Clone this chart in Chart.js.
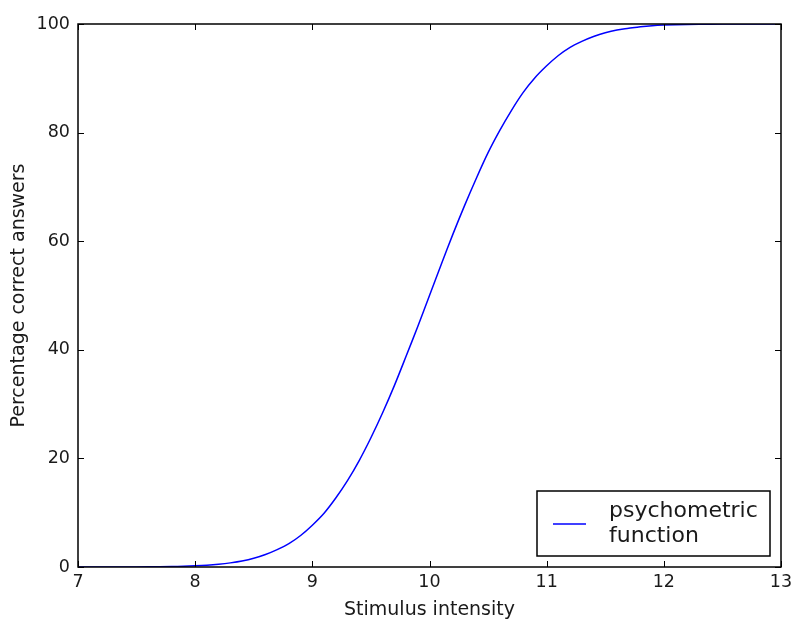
<!DOCTYPE html>
<html>
<head>
<meta charset="utf-8">
<script src="https://cdn.jsdelivr.net/npm/chart.js@4.4.1/dist/chart.umd.min.js"></script>
<style>
  html, body { margin: 0; padding: 0; background: #fff; }
  #wrap { width: 792px; height: 621px; }
</style>
</head>
<body>
<div id="wrap"><canvas id="psyChart" width="792" height="621"></canvas></div>
<script>
// stimulus intensity samples and the percentage of correct answers at each
const intensity = [7.0, 7.2, 7.4, 7.6, 7.8, 7.9, 8.0, 8.1, 8.2, 8.3, 8.4, 8.5, 8.6, 8.7, 8.8, 8.9,
  9.0, 9.1, 9.2, 9.3, 9.4, 9.5, 9.6, 9.7, 9.8, 9.9, 10.0, 10.1, 10.2, 10.3, 10.4, 10.5,
  10.6, 10.7, 10.8, 10.9, 11.0, 11.1, 11.2, 11.3, 11.4, 11.5, 11.6, 11.7, 11.8, 11.9,
  12.0, 12.2, 12.4, 12.6, 12.8, 13.0];
const percentCorrect = [0.0, 0.0, 0.01, 0.03, 0.08, 0.13, 0.21, 0.33, 0.51, 0.76, 1.1, 1.6, 2.3, 3.2, 4.3, 5.8,
  7.7, 9.9, 12.7, 15.9, 19.6, 23.8, 28.4, 33.4, 38.8, 44.3, 50.0, 55.7, 61.3, 66.6, 71.6, 76.3,
  80.4, 84.1, 87.4, 90.1, 92.3, 94.2, 95.7, 96.8, 97.7, 98.4, 98.9, 99.2, 99.5, 99.7,
  99.8, 99.9, 99.96, 99.99, 100.0, 100.0];
const xTicks = [7, 8, 9, 10, 11, 12, 13];
const yTicks = [0, 20, 40, 60, 80, 100];
const seriesLabel = ["psychometric", "function"];

const FONT = "'DejaVu Sans', sans-serif";
const INK = "#1a1a1a";

// box around the axes, with inward ticks on all four sides
const framePlugin = {
  id: "frame",
  afterDatasetsDraw(chart) {
    const { ctx, chartArea: a, scales } = chart;
    const len = 6;
    ctx.save();
    ctx.strokeStyle = "#000";
    ctx.lineWidth = 1;
    xTicks.forEach(v => {
      const px = Math.round(scales.x.getPixelForValue(v)) + 0.5;
      ctx.beginPath();
      ctx.moveTo(px, a.bottom); ctx.lineTo(px, a.bottom - len);
      ctx.moveTo(px, a.top); ctx.lineTo(px, a.top + len);
      ctx.stroke();
    });
    yTicks.forEach(v => {
      const py = Math.round(scales.y.getPixelForValue(v)) + 0.5;
      ctx.beginPath();
      ctx.moveTo(a.left, py); ctx.lineTo(a.left + len, py);
      ctx.moveTo(a.right, py); ctx.lineTo(a.right - len, py);
      ctx.stroke();
    });
    ctx.lineWidth = 1.5;
    ctx.strokeRect(a.left, a.top, a.right - a.left, a.bottom - a.top);
    ctx.restore();
  }
};

// legend box in the lower right corner of the axes
const legendPlugin = {
  id: "cornerLegend",
  afterDraw(chart) {
    const { ctx, chartArea: a } = chart;
    const ds = chart.data.datasets[0];
    const w = 233, h = 65;
    const x0 = a.right - 11 - w, y0 = a.bottom - 11 - h;
    ctx.save();
    ctx.fillStyle = "#fff";
    ctx.fillRect(x0, y0, w, h);
    ctx.strokeStyle = "#000";
    ctx.lineWidth = 1.5;
    ctx.strokeRect(x0, y0, w, h);
    ctx.strokeStyle = ds.borderColor;
    ctx.lineWidth = ds.borderWidth;
    ctx.beginPath();
    ctx.moveTo(x0 + 16, y0 + 33);
    ctx.lineTo(x0 + 49, y0 + 33);
    ctx.stroke();
    ctx.fillStyle = INK;
    ctx.font = "22px " + FONT;
    ctx.textBaseline = "middle";
    ds.label.forEach((line, i) => ctx.fillText(line, x0 + 72, y0 + 20 + i * 25));
    ctx.restore();
  }
};

const ctx = document.getElementById("psyChart").getContext("2d");
const psyChart = new Chart(ctx, {
  type: "scatter",
  data: {
    datasets: [
      {
        label: seriesLabel,
        data: intensity.map((x, i) => ({ x: x, y: percentCorrect[i] })),
        showLine: true,
        borderColor: "#0000ff",
        borderWidth: 1.5,
        pointRadius: 0,
        tension: 0.3,
        fill: false,
      },
    ],
  },
  options: {
    responsive: false,
    animation: false,
    layout: { padding: { top: 24, right: 11, left: 0, bottom: 0 } },
    plugins: {
      legend: { display: false },
      tooltip: { enabled: false },
    },
    scales: {
      x: {
        type: "linear",
        min: 7,
        max: 13,
        afterFit: s => { s.height = 54; s.paddingLeft = 0; s.paddingRight = 0; },
        afterBuildTicks: s => { s.ticks = xTicks.map(v => ({ value: v })); },
        grid: { display: false, drawTicks: false },
        border: { display: false },
        ticks: { color: INK, font: { family: FONT, size: 17.5 }, padding: 5 },
        title: {
          display: true,
          text: "Stimulus intensity",
          color: INK,
          font: { family: FONT, size: 19 },
          padding: { top: 2, bottom: 0 },
        },
      },
      y: {
        min: 0,
        max: 100,
        afterFit: s => { s.width = 78; s.paddingTop = 0; s.paddingBottom = 0; },
        afterBuildTicks: s => { s.ticks = yTicks.map(v => ({ value: v })); },
        grid: { display: false, drawTicks: false },
        border: { display: false },
        ticks: { color: INK, font: { family: FONT, size: 17.5 }, padding: 8 },
        title: {
          display: true,
          text: "Percentage correct answers",
          color: INK,
          font: { family: FONT, size: 19 },
          padding: { top: 8, bottom: 0 },
        },
      },
    },
  },
  plugins: [framePlugin, legendPlugin],
});
</script>
</body>
</html>
